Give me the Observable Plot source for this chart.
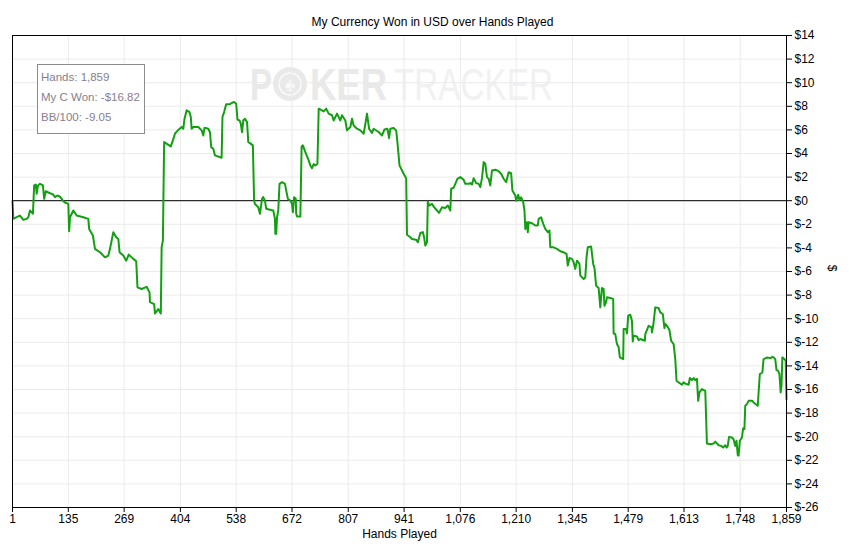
<!DOCTYPE html>
<html><head><meta charset="utf-8">
<script src="https://cdn.jsdelivr.net/npm/d3@7"></script>
<script src="https://cdn.jsdelivr.net/npm/@observablehq/plot@0.6"></script>
<style>
html,body{margin:0;padding:0;background:#fff;}
#chart{position:relative;width:849px;height:548px;overflow:hidden;}
</style></head><body><div id="chart"></div>
<script>
const hands = [1,3,11,19,27,35,39,43,50,53,57,59,62,67,74,77,81,91,98,103,109,115,122,127,135,137,139,147,155,171,183,185,194,199,211,223,231,235,243,250,255,258,267,274,280,291,298,301,311,323,330,331,341,343,351,357,359,362,365,381,386,391,399,407,411,414,419,426,429,431,435,447,455,459,462,471,475,478,483,487,495,503,505,509,514,523,527,533,538,541,546,549,552,555,559,564,567,571,578,581,583,591,595,600,603,607,610,619,627,631,632,634,636,639,642,648,655,658,662,668,672,674,677,681,682,684,692,695,698,704,712,716,720,724,728,733,736,744,748,754,760,768,772,780,788,792,800,804,812,816,820,828,836,844,848,852,857,864,868,880,888,894,901,905,908,916,922,925,930,940,946,948,956,960,970,974,980,986,989,992,996,998,1002,1008,1013,1020,1025,1032,1040,1046,1052,1054,1060,1064,1069,1076,1084,1088,1096,1100,1104,1108,1114,1120,1124,1128,1132,1136,1140,1144,1148,1152,1160,1168,1174,1180,1186,1192,1198,1201,1208,1210,1215,1218,1222,1227,1230,1232,1236,1238,1240,1248,1256,1262,1264,1270,1275,1280,1286,1290,1292,1300,1308,1316,1324,1331,1334,1338,1344,1348,1352,1356,1362,1364,1372,1376,1379,1382,1390,1395,1398,1402,1408,1412,1416,1420,1422,1426,1428,1436,1443,1444,1448,1452,1456,1459,1467,1468,1474,1476,1479,1484,1488,1490,1492,1500,1504,1508,1519,1520,1528,1535,1536,1539,1544,1552,1556,1562,1566,1568,1572,1578,1582,1588,1592,1595,1600,1608,1612,1616,1624,1627,1632,1636,1640,1644,1647,1650,1656,1664,1668,1676,1684,1688,1696,1702,1707,1712,1715,1718,1721,1728,1732,1736,1739,1742,1744,1747,1752,1755,1758,1760,1764,1768,1777,1780,1790,1792,1795,1801,1804,1813,1821,1825,1828,1832,1835,1839,1842,1845,1847,1849,1854,1857,1859];
const won = [0,-1.54,-1.40,-1.26,-1.62,-1.54,-1.40,-0.83,-1.10,1.29,1.37,0.58,1.29,1.43,1.29,0.16,0.80,0.63,0.55,0.30,0.44,0.34,0.00,-0.15,-0.27,-2.59,-1.40,-0.83,-1.26,-1.40,-1.54,-2.39,-2.95,-4.08,-4.37,-4.80,-4.65,-4.08,-2.67,-3.10,-3.24,-4.37,-4.65,-5.08,-4.57,-4.93,-5.14,-7.34,-7.48,-7.30,-7.77,-8.60,-8.77,-9.55,-9.18,-9.55,-3.95,-3.38,4.97,4.60,5.11,5.68,6.00,6.24,6.10,6.95,7.66,7.50,7.10,6.10,6.24,6.24,5.96,5.53,6.19,6.10,5.80,4.54,4.40,3.84,3.75,3.64,7.09,7.51,8.17,8.17,8.28,8.36,8.22,6.87,6.80,6.53,5.81,6.80,6.95,6.66,4.97,4.88,4.69,0.00,-0.28,-0.55,-1.11,0.16,0.30,0.00,-0.69,-0.76,-0.83,-1.54,-2.81,-2.81,-1.40,-0.83,1.43,1.57,1.43,0.87,0.16,0.02,-0.27,-0.97,0.30,0.16,-1.11,-1.34,-1.34,4.60,4.69,4.12,3.41,2.99,2.76,3.10,2.99,3.13,7.80,7.66,7.57,7.80,7.38,7.24,6.80,7.38,6.80,7.24,6.80,5.96,6.24,6.95,6.38,6.10,5.96,5.68,6.50,7.38,6.10,5.75,6.10,5.82,5.53,6.04,6.10,5.31,6.10,6.16,5.96,4.97,2.99,2.28,1.91,-2.89,-3.10,-3.24,-3.30,-3.52,-2.73,-2.66,-3.10,-3.80,-3.50,-0.07,-0.41,-0.27,-0.55,-0.83,-1.03,-0.55,-0.62,-0.41,-0.83,1.01,1.10,1.43,1.85,2.00,1.77,1.43,1.43,1.49,1.37,1.91,1.49,1.43,1.15,1.91,3.27,3.13,2.00,1.86,1.29,2.56,2.62,2.50,2.28,1.86,1.57,2.42,2.33,0.87,0.44,0.00,0.50,0.06,0.29,-0.13,-0.83,-2.39,-1.82,-2.67,-1.82,-1.91,-2.10,-2.10,-1.54,-1.40,-1.96,-2.39,-2.67,-2.53,-3.95,-3.95,-4.08,-4.28,-4.37,-4.51,-5.50,-4.85,-4.93,-5.22,-5.78,-5.08,-5.36,-6.35,-6.63,-6.50,-4.79,-3.95,-3.89,-5.36,-5.70,-7.20,-7.39,-9.04,-7.40,-7.48,-8.90,-8.60,-8.19,-8.24,-8.33,-11.25,-11.30,-12.15,-12.40,-13.28,-13.42,-10.87,-10.87,-11.25,-9.75,-9.66,-10.17,-11.93,-11.44,-11.50,-11.81,-11.72,-11.87,-11.30,-10.60,-10.74,-11.16,-10.60,-9.04,-9.10,-9.46,-9.60,-10.79,-10.45,-10.60,-10.96,-11.87,-12.15,-13.42,-15.26,-15.40,-15.60,-15.40,-15.50,-15.60,-15.03,-15.20,-15.03,-15.20,-15.10,-16.96,-16.25,-15.97,-16.11,-20.58,-20.64,-20.58,-20.42,-20.72,-20.78,-20.92,-20.72,-20.92,-20.78,-20.02,-20.07,-20.21,-20.78,-20.35,-21.57,-21.60,-20.35,-20.07,-19.28,-19.35,-17.38,-17.24,-16.96,-16.96,-17.10,-17.38,-16.25,-14.69,-14.56,-13.42,-13.28,-13.34,-13.23,-13.28,-13.42,-14.36,-14.42,-14.69,-16.25,-15.70,-13.28,-13.42,-13.56,-16.82];
const xTicks = [1,135,269,404,538,672,807,941,1076,1210,1345,1479,1613,1748,1859];
const yTicks = [-26,-24,-22,-20,-18,-16,-14,-12,-10,-8,-6,-4,-2,0,2,4,6,8,10,12,14];
const legendLines = ["Hands: 1,859","My C Won: -$16.82","BB/100: -9.05"];
const title = "My Currency Won in USD over Hands Played";
const xLabel = "Hands Played";
const yLabel = "$";

const data = hands.map((h, i) => ({hand: h, won: won[i]}));

const plot = Plot.plot({
  width: 849, height: 548,
  marginLeft: 12, marginRight: 63, marginTop: 35, marginBottom: 41,
  style: {fontFamily: "'Liberation Sans', Arial, sans-serif", fontSize: "12px", color: "#000", background: "#fff", overflow: "visible"},
  x: {domain: [1, 1859], ticks: xTicks, tickFormat: d3.format(","), tickSize: 5, tickPadding: 2, label: null, axis: "bottom"},
  y: {domain: [-26, 14], ticks: yTicks, tickFormat: d => "$" + d, tickSize: 5, tickPadding: 3, label: null, axis: "right"},
  marks: [
    Plot.gridX(xTicks, {stroke: "#ebebeb", strokeOpacity: 1}),
    Plot.gridY(yTicks, {stroke: "#ebebeb", strokeOpacity: 1}),
    Plot.ruleY([0], {stroke: "#000"}),
    Plot.line(data, {x: "hand", y: "won", stroke: "#12a012", strokeWidth: 2}),
    Plot.frame({stroke: "#000"}),
    Plot.text([title], {frameAnchor: "top", dx: 33, dy: -18, fontSize: 12}),
    Plot.text([xLabel], {frameAnchor: "bottom", dy: 30, fontSize: 12}),
    Plot.text([yLabel], {frameAnchor: "right", dx: 45, rotate: 90, fontSize: 12})
  ]
});

const svg = d3.select(plot);
// watermark
const wm = svg.insert("g", ":first-child")
  .attr("font-family", "'Liberation Sans', Arial, sans-serif")
  .attr("text-anchor", "start");
wm.append("text").attr("x", 250).attr("y", 100).attr("font-size", 44).attr("font-weight", "bold")
  .attr("fill", "#e9e9e9").attr("textLength", 22).attr("lengthAdjust", "spacingAndGlyphs").text("P");
wm.append("circle").attr("cx", 290).attr("cy", 84).attr("r", 17).attr("fill", "#e9e9e9");
wm.append("circle").attr("cx", 290).attr("cy", 84).attr("r", 11).attr("fill", "none").attr("stroke", "#fafafa").attr("stroke-width", 1.5);
wm.append("text").attr("x", 290).attr("y", 91).attr("font-size", 20).attr("text-anchor", "middle")
  .attr("fill", "#fafafa").text("\u2660");
wm.append("text").attr("x", 310).attr("y", 100).attr("font-size", 44).attr("font-weight", "bold")
  .attr("fill", "#e9e9e9").attr("textLength", 77).attr("lengthAdjust", "spacingAndGlyphs").text("KER");
wm.append("text").attr("x", 394).attr("y", 100).attr("font-size", 44)
  .attr("fill", "#f1f1f1").attr("textLength", 159).attr("lengthAdjust", "spacingAndGlyphs").text("TRACKER");

// legend box
const lg = svg.append("g")
  .attr("font-family", "'Liberation Sans', Arial, sans-serif")
  .attr("font-size", 11.5)
  .attr("text-anchor", "start");
lg.append("rect").attr("x", 37.5).attr("y", 64.5).attr("width", 107).attr("height", 69)
  .attr("fill", "#fff").attr("stroke", "#8c8c8c");
legendLines.forEach((t, i) => {
  lg.append("text").attr("x", 41).attr("y", 81 + i * 20).attr("fill", "#877e8e").text(t);
});

document.getElementById("chart").appendChild(plot);
</script></body></html>
